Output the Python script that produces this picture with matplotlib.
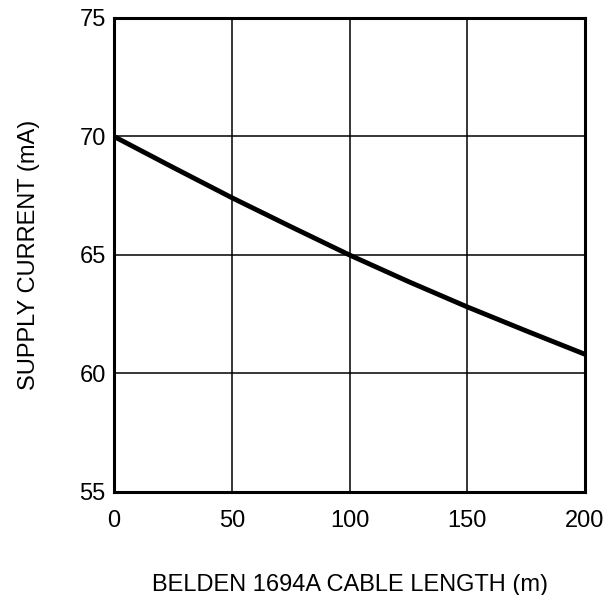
import matplotlib
matplotlib.use("Agg")
import matplotlib.pyplot as plt

plt.rcParams['font.family'] = ['Liberation Sans', 'DejaVu Sans']

# cable length (m) vs supply current (mA)
length_m = [0, 25, 50, 75, 100, 125, 150, 175, 200]
current_ma = [70.0, 68.7, 67.42, 66.2, 65.0, 63.88, 62.81, 61.8, 60.81]

x_ticks = [0, 50, 100, 150, 200]
y_ticks = [55, 60, 65, 70, 75]

fig = plt.figure(figsize=(6.07, 5.95), dpi=100)
ax = fig.add_axes([114 / 607, 1 - 492 / 595, 471 / 607, 474 / 595])

ax.plot(length_m, current_ma, color='black', lw=3.5, solid_capstyle='butt', zorder=3)

ax.set_xlim(0, 200)
ax.set_ylim(55, 75)
ax.set_xticks(x_ticks)
ax.set_yticks(y_ticks)
ax.grid(True, color='black', lw=1.1)
ax.tick_params(length=0, labelsize=17, pad=6)
ax.tick_params(axis='x', pad=13)
for s in ax.spines.values():
    s.set_linewidth(2.2)

ax.set_xlabel('BELDEN 1694A CABLE LENGTH (m)', fontsize=17, labelpad=30)
ax.set_ylabel('SUPPLY CURRENT (mA)', fontsize=17, labelpad=28)

fig.savefig('out.png', dpi=100)
